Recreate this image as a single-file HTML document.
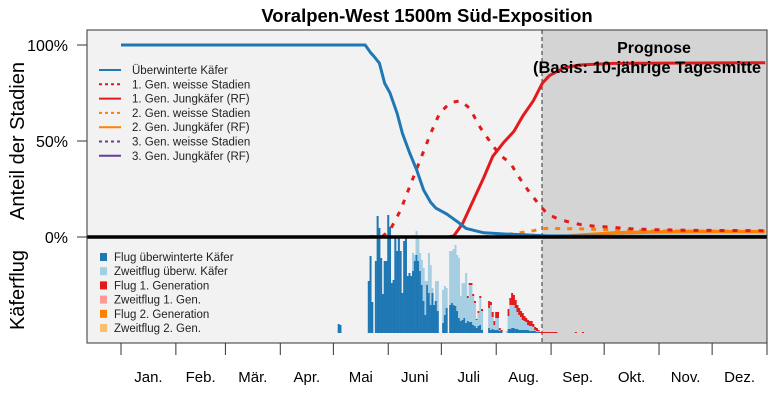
<!DOCTYPE html>
<html><head><meta charset="utf-8"><style>
html,body{margin:0;padding:0;background:#fff;}
svg{display:block;font-family:"Liberation Sans",sans-serif;}
</style></head><body>
<svg id="chart" width="770" height="405" viewBox="0 0 770 405">
<rect x="87" y="30" width="680" height="313" fill="#f2f2f2"/>
<rect x="542" y="30" width="225" height="313" fill="#d4d4d4"/>
<line x1="542" y1="30" x2="542" y2="343" stroke="#333" stroke-width="1" stroke-dasharray="4,3"/>
<g id="bars"></g>
<g id="curves"></g>
<line x1="87" y1="237" x2="767" y2="237" stroke="#000" stroke-width="3.5"/>
<text x="427" y="22" text-anchor="middle" font-size="18.5" font-weight="bold">Voralpen-West 1500m Süd-Exposition</text>
<text x="654" y="53" text-anchor="middle" font-size="16" font-weight="bold">Prognose</text>
<text x="533" y="73" text-anchor="start" font-size="16.5" font-weight="bold">(Basis: 10-jährige Tagesmitte</text>
<rect x="768" y="30" width="2" height="320" fill="#fff"/>
<rect x="87" y="30" width="680" height="313" fill="none" stroke="#333" stroke-width="1"/>
<text transform="translate(24,141) rotate(-90)" text-anchor="middle" font-size="20">Anteil der Stadien</text>
<text transform="translate(24,290) rotate(-90)" text-anchor="middle" font-size="20">Käferflug</text>
<g id="yaxis"></g>
<g id="xaxis"></g>
<g id="legend1"></g>
<g id="legend2"></g>
</svg>
<script>
const months = ["Jan.","Feb.","Mär.","Apr.","Mai","Juni","Juli","Aug.","Sep.","Okt.","Nov.","Dez."];
const monthStarts = [0,31,59,90,120,151,181,212,243,273,304,334,365];
const yTicks = [0,50,100];
const yTickLabels = ["0%","50%","100%"];

const blueDays = [0,138,141,143,146,149,152,156,159,163,167,171,175,178,181,184,187,190,195,205,218,240,280,365];
const blueVals = [100,100,96,94,90.5,80,75,64.5,54,44,35,24.5,18,15,13.5,12,10,8,4.5,2.2,1.5,0.7,0.4,0.3];
const red1WDays = [140,148,152,158,163,169,175,180,186,192,197,203,209,214,220,225,231,237,241,247,254,260,267,275,288,301,322,364];
const red1WVals = [0,0.5,3.6,14,26,40,54,64.5,70,71,67,57,49,42.7,38.5,31,23,16,12,9.4,7.6,6.4,5.7,5.2,4.3,3.8,3.5,3.3];
const red1JDays = [185,188,193,199,205,210,216,222,227,233,238,242,250,259,278,364];
const red1JVals = [0,0.5,7,19,31,42,49,55,63,71,80,84,88,89.6,90.4,90.8];
const or2WDays = [205,215,224,233,240,260,280,300,364];
const or2WVals = [0,1,2,3.3,4.5,4.2,3.7,3.1,3];
const or2JDays = [245,260,280,300,330,364];
const or2JVals = [0,1,2.2,2.6,2.8,2.8];

const barStart = 123;
const flightOverwintered = [9,8,0,0,0,0,0,0,0,0,0,0,0,0,0,0,0,52,77,31,0,72,117,105,75,39,72,72,118,106,50,53,95,82,95,82,40,92,95,57,60,57,62,72,78,72,62,48,32,18,48,40,28,40,28,32,22,0,0,10,18,25,0,28,30,28,27,22,15,12,13,15,10,12,11,11,8,7,5,7,8,3,0,0,0,5,3,4,3,3,3,2,1,0,0,0,4,4,5,5,4,4,3,3,3,3,3,3,2,2,2,2,1,1,0,0,0];
const flightSecond = [0,0,0,0,0,0,0,0,0,0,0,0,0,0,0,0,0,0,0,0,0,0,0,0,0,0,0,0,0,0,0,0,0,0,0,0,0,0,0,0,0,0,18,6,24,23,18,25,33,34,4,40,40,5,4,20,30,0,0,33,29,20,0,54,52,56,61,56,60,25,37,35,50,23,37,37,29,23,8,13,27,19,0,0,0,20,25,12,5,12,12,1,0,0,0,2,13,24,23,23,21,17,15,13,10,9,8,5,5,5,4,1,1,1,0,0,0];
const flightGen1 = [0,0,0,0,0,0,0,0,0,0,0,0,0,0,0,0,0,0,0,0,0,0,0,0,0,0,0,0,0,0,0,0,0,0,0,0,0,0,0,0,0,0,0,0,0,0,0,0,0,0,0,0,0,0,0,0,0,0,0,0,0,0,0,0,0,0,0,0,0,0,0,0,0,2,2,2,2,2,1,2,2,2,0,0,0,7,3,5,4,6,6,2,2,0,0,0,7,7,12,10,8,7,7,6,7,5,4,5,5,5,3,3,3,1,1,1,1,1,1,1,1,1,1,1,0,0,0,0,0,0,0,0,0,0,1,0,0,0,1];

const X0 = 121, XPD = 646/365;
function xS(d){return X0 + d*XPD;}
function yS(v){return 237 - v*1.92;}
function yB(v){return 333 - v;}
const NS="http://www.w3.org/2000/svg";
function mk(tag, attrs, parent){const e=document.createElementNS(NS,tag);for(const k in attrs)e.setAttribute(k,attrs[k]);parent.appendChild(e);return e;}

const bars=document.getElementById('bars');
const bw = XPD+0.25;
for(let i=0;i<flightGen1.length;i++){
  const d=barStart+i;
  const a=flightOverwintered[i]||0, b=flightSecond[i]||0, c=flightGen1[i]||0;
  let base=0;
  const parts=[[a,'#1f78b4','bar-overwintered'],[b,'#a6cee3','bar-second-flight'],[c,'#e31a1c','bar-gen1']];
  for(const [v,col,nm] of parts){
    if(v>0){
      const r=mk('rect',{x:xS(d)-bw/2,y:yB(base+v),width:bw,height:v,fill:col},bars);
      
      
      base+=v;
    }
  }
}

const curves=document.getElementById('curves');
function line(days,vals,col,dash,nm,w){
  let dstr='';
  for(let i=0;i<days.length;i++){dstr+=(i?'L':'M')+xS(days[i]).toFixed(1)+','+yS(vals[i]).toFixed(1);}
  const p=mk('path',{d:dstr,fill:'none',stroke:col,'stroke-width':w||3,'stroke-linejoin':'round'},curves);
  if(dash){p.setAttribute('stroke-dasharray',dash);}
  
  
}
line(or2JDays,or2JVals,'#ff7f00',null,'line-gen2-beetles',3.5);
line(or2WDays,or2WVals,'#ff7f00','5,7','line-gen2-white-stages',3);
line(red1WDays,red1WVals,'#e31a1c','5,8','line-gen1-white-stages',3);
line(red1JDays,red1JVals,'#e31a1c',null,'line-gen1-beetles',3);
line(blueDays,blueVals,'#1f78b4',null,'line-overwintered',3);

const ya=document.getElementById('yaxis');
for(let i=0;i<yTicks.length;i++){
  const y=yS(yTicks[i]);
  const t=mk('line',{x1:77,y1:y,x2:87,y2:y,stroke:'#333'},ya);
  
  
  const tx=mk('text',{x:68,y:y+6,'text-anchor':'end','font-size':16},ya);
  tx.textContent=yTickLabels[i];
  
  
}
const xa=document.getElementById('xaxis');
for(let i=0;i<monthStarts.length;i++){
  const x=xS(monthStarts[i]);
  const t=mk('line',{x1:x,y1:343,x2:x,y2:355,stroke:'#333'},xa);
  
  
}
for(let i=0;i<months.length;i++){
  const x=xS((monthStarts[i]+monthStarts[i+1])/2);
  const tx=mk('text',{x:x,y:382,'text-anchor':'middle','font-size':15},xa);
  tx.textContent=months[i];
  
  
}
const l1=document.getElementById('legend1');
const l1items=[["Überwinterte Käfer","#1f78b4",null],["1. Gen. weisse Stadien","#e31a1c","3,3"],["1. Gen. Jungkäfer (RF)","#e31a1c",null],["2. Gen. weisse Stadien","#ff7f00","3,3"],["2. Gen. Jungkäfer (RF)","#ff7f00",null],["3. Gen. weisse Stadien","#6a3d9a","3,3"],["3. Gen. Jungkäfer (RF)","#6a3d9a",null]];
l1items.forEach((it,i)=>{
  const y=70+i*14.3;
  const g=mk('g',{},l1);
  
  
  const ln=mk('line',{x1:99,y1:y,x2:121,y2:y,stroke:it[1],'stroke-width':2},g);
  if(it[2])ln.setAttribute('stroke-dasharray',it[2]);
  const tx=mk('text',{x:132,y:y+4,'font-size':11.5,fill:'#222'},g);
  tx.textContent=it[0];
});
const l2=document.getElementById('legend2');
const l2items=[["Flug überwinterte Käfer","#1f78b4"],["Zweitflug überw. Käfer","#a6cee3"],["Flug 1. Generation","#e31a1c"],["Zweitflug 1. Gen.","#fb9a99"],["Flug 2. Generation","#ff7f00"],["Zweitflug 2. Gen.","#fdbf6f"]];
l2items.forEach((it,i)=>{
  const y=257+i*14.2;
  const g=mk('g',{},l2);
  
  
  mk('rect',{x:100,y:y-4,width:7,height:8,fill:it[1]},g);
  const tx=mk('text',{x:114,y:y+4,'font-size':11.5,fill:'#222'},g);
  tx.textContent=it[0];
});
</script>
</body></html>
